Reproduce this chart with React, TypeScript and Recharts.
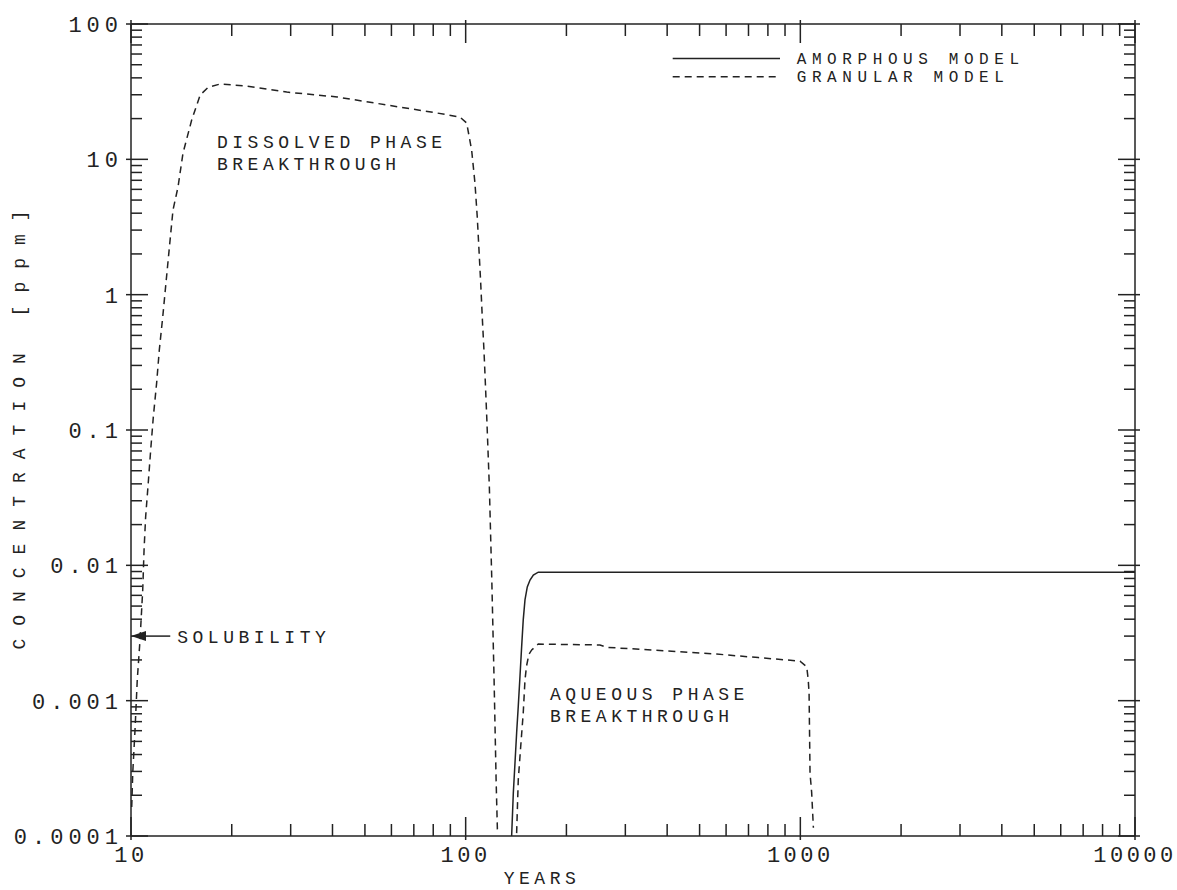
import React from 'react';
import { LineChart, Line, XAxis, YAxis, ReferenceLine, ReferenceDot, Legend } from 'recharts';

// ---- data ----
const amorphousYears = [137.2, 138.8, 140.4, 142.0, 143.6, 145.3, 147.0, 148.6, 150.4, 152.8, 155.7, 159.3, 164.8, 10000];
const amorphousConc = [0.0001, 0.000208, 0.000346, 0.000577, 0.000908, 0.00151, 0.00252, 0.00395, 0.00555, 0.00692, 0.00779, 0.00848, 0.0089, 0.0089];

// dissolved-phase pulse of the granular model
const granularYears1 = [10.05, 10.12, 10.28, 10.44, 10.64, 10.84, 10.94, 11.06, 11.26, 11.45, 11.66, 11.93, 12.15, 12.44, 12.72, 12.99, 13.35, 13.82, 14.3, 15.18, 16.1, 17.0, 18.45, 22.2, 29.2, 41.3, 58.2, 82.1, 96.2, 100.7, 104.2, 106.6, 108.3, 109.6, 110.9, 112.1, 113.4, 114.5, 115.6, 116.6, 117.7, 119.7, 121.6, 123.3, 124.4];
const granularConc1 = [0.000164, 0.000292, 0.000607, 0.00142, 0.00281, 0.00658, 0.013, 0.0228, 0.0406, 0.0711, 0.125, 0.223, 0.39, 0.684, 1.22, 2.1, 4.22, 6.25, 11.1, 19.5, 29.9, 34.0, 36.0, 34.8, 31.4, 28.9, 25.2, 22.0, 20.5, 18.55, 11.7, 6.68, 3.75, 2.14, 1.22, 0.684, 0.39, 0.223, 0.125, 0.0711, 0.038, 0.00779, 0.00142, 0.000259, 0.000111];

// aqueous-phase pulse of the granular model
const granularYears2 = [142.0, 143.6, 146.0, 148.6, 150.4, 152.0, 154.5, 157.5, 164.8, 252, 264, 562, 749, 998, 1045, 1056, 1062, 1069, 1081, 1094];
const granularConc2 = [0.000105, 0.000259, 0.000455, 0.000811, 0.00142, 0.0018, 0.0022, 0.00237, 0.00262, 0.00258, 0.00248, 0.00221, 0.00208, 0.00196, 0.00178, 0.00142, 0.00114, 0.00029, 0.00021, 0.000115];

const seriesNames = ['AMORPHOUS MODEL', 'GRANULAR MODEL'];

const xMajorTicks = [10, 100, 1000, 10000];
const xTickLabels = ['10', '100', '1000', '10000'];
const yMajorTicks = [0.0001, 0.001, 0.01, 0.1, 1, 10, 100];
const yTickLabels = ['0.0001', '0.001', '0.01', '0.1', '1', '10', '100'];
const minorMultipliers = [2, 3, 4, 5, 6, 7, 8, 9];

const xAxisTitle = 'YEARS';
const yAxisTitle = 'CONCENTRATION [ppm]';

const solubilityLevel = 0.003;
const solubilityArrowEnd = 13.1;
const solubilityText = 'SOLUBILITY';

const annotationLines = [
  ['DISSOLVED PHASE', 'BREAKTHROUGH'],
  ['AQUEOUS PHASE', 'BREAKTHROUGH'],
];
const annotationYears = [18.07, 178.6];
const annotationConc = [12.13, 0.00101];

// ---- derived tables ----
const amorphousData = amorphousYears.map((x, i) => ({ x, y: amorphousConc[i] }));
const granularData = [
  ...granularYears1.map((x, i) => ({ x, y: granularConc1[i] })),
  { x: 130, y: null },
  ...granularYears2.map((x, i) => ({ x, y: granularConc2[i] })),
];

const withMinors = (majors: number[]) => {
  const out: number[] = [];
  majors.forEach((m, i) => {
    out.push(m);
    if (i < majors.length - 1) minorMultipliers.forEach((k) => out.push(m * k));
  });
  return out;
};
const xTicks = withMinors(xMajorTicks);
const yTicks = withMinors(yMajorTicks);

// ---- styling ----
const FONT = '"Liberation Mono", "DejaVu Sans Mono", monospace';
const INK = '#222';
const LW = 1.5;
const DASH = '7 5';
const TICK_FS = 22;
const XTICK_LS = 3.5;
const YTICK_LS = 5;
const ANN_FS = 18;
const ANN_LS = 4.5;
const LEG_FS = 16;
const LEG_LS = 5.6;

const majorIndex = (v: number, majors: number[]) =>
  majors.findIndex((m) => Math.abs(Math.log10(m) - Math.log10(v)) < 1e-6);

const BottomTick = (props: any) => {
  const { x, y, payload } = props;
  const idx = majorIndex(payload.value, xMajorTicks);
  const major = idx >= 0;
  return (
    <g>
      <line x1={x} x2={x} y1={y + (major ? 4 : 0)} y2={y - (major ? 19 : 12)} stroke={INK} strokeWidth={LW} />
      {major && (
        <text x={x} y={y + 26} textAnchor="middle" fontFamily={FONT} fontSize={TICK_FS}
          letterSpacing={XTICK_LS} fill={INK}>
          {xTickLabels[idx]}
        </text>
      )}
    </g>
  );
};

const TopTick = (props: any) => {
  const { x, y, payload } = props;
  const major = majorIndex(payload.value, xMajorTicks) >= 0;
  return <line x1={x} x2={x} y1={y - (major ? 4 : 0)} y2={y + (major ? 19 : 12)} stroke={INK} strokeWidth={LW} />;
};

const LeftTick = (props: any) => {
  const { x, y, payload } = props;
  const idx = majorIndex(payload.value, yMajorTicks);
  const major = idx >= 0;
  return (
    <g>
      <line x1={x - (major ? 5 : 0)} x2={x + (major ? 17 : 11)} y1={y} y2={y} stroke={INK} strokeWidth={LW} />
      {major && (
        <text x={x - 13} y={y + 8} dx={YTICK_LS} textAnchor="end" fontFamily={FONT} fontSize={TICK_FS}
          letterSpacing={YTICK_LS} fill={INK}>
          {yTickLabels[idx]}
        </text>
      )}
    </g>
  );
};

const RightTick = (props: any) => {
  const { x, y, payload } = props;
  const major = majorIndex(payload.value, yMajorTicks) >= 0;
  return <line x1={x + (major ? 5 : 0)} x2={x - (major ? 17 : 11)} y1={y} y2={y} stroke={INK} strokeWidth={LW} />;
};

const YTitle = (props: any) => {
  const vb = props.viewBox || { x: 0, y: 24, width: 131, height: 812 };
  const cx = vb.x + 20;
  const cy = vb.y + vb.height / 2;
  return (
    <text x={cx} y={cy} transform={`rotate(-90 ${cx} ${cy})`} textAnchor="middle" dominantBaseline="central"
      dx={6.5} fontFamily={FONT} fontSize={ANN_FS} letterSpacing={13} fill={INK}>
      {yAxisTitle}
    </text>
  );
};

const XTitle = (props: any) => {
  const vb = props.viewBox || { x: 131, y: 836, width: 1004, height: 54 };
  return (
    <text x={vb.x + 409} y={vb.y + 48} textAnchor="middle" dx={2} fontFamily={FONT} fontSize={ANN_FS}
      letterSpacing={ANN_LS} fill={INK}>
      {xAxisTitle}
    </text>
  );
};

const ArrowShape = (props: any) => {
  const { x1, y1, x2 } = props;
  const left = Math.min(x1, x2);
  const right = Math.max(x1, x2);
  return (
    <g>
      <line x1={left + 12} x2={right} y1={y1} y2={y1} stroke={INK} strokeWidth={LW} />
      <polygon points={`${left},${y1} ${left + 15},${y1 - 5} ${left + 15},${y1 + 5}`} fill={INK} />
      <text x={right + 7} y={y1 + 6.5} fontFamily={FONT} fontSize={ANN_FS} letterSpacing={ANN_LS} fill={INK}>
        {solubilityText}
      </text>
    </g>
  );
};

const makeAnnotation = (lines: string[]) => (props: any) => {
  const { cx, cy } = props;
  return (
    <text x={cx} y={cy} fontFamily={FONT} fontSize={ANN_FS} letterSpacing={ANN_LS} fill={INK}>
      {lines.map((t, i) => (
        <tspan key={i} x={cx} dy={i === 0 ? 0 : 22}>{t}</tspan>
      ))}
    </text>
  );
};

const LegendContent = (props: any) => {
  const items = props.payload || [];
  return (
    <svg width={380} height={54} style={{ display: 'block' }}>
      {items.map((it: any, i: number) => {
        const y = 18.4 + i * 18.3;
        const dashed = it.value === seriesNames[1];
        return (
          <g key={i}>
            <line x1={12.7} x2={120} y1={y} y2={y} stroke={INK} strokeWidth={LW} strokeDasharray={dashed ? DASH : undefined} />
            <text x={136.7} y={y + 5.6} fontFamily={FONT} fontSize={LEG_FS} letterSpacing={LEG_LS} fill={INK}>
              {it.value}
            </text>
          </g>
        );
      })}
    </svg>
  );
};

export default function App() {
  return (
    <div style={{ position: 'absolute', left: 0, top: 0, background: '#fff' }}>
      <LineChart width={1177} height={890} margin={{ top: 0, right: 0, bottom: 0, left: 0 }}>
        <XAxis xAxisId={0} type="number" dataKey="x" scale="log" domain={[10, 10000]} allowDataOverflow
          ticks={xTicks} interval={0} tickSize={0} tickMargin={0} tickLine={false} tick={BottomTick}
          axisLine={{ stroke: INK, strokeWidth: LW }} height={54} orientation="bottom" label={XTitle} />
        <XAxis xAxisId="top" type="number" dataKey="x" scale="log" domain={[10, 10000]} allowDataOverflow
          ticks={xTicks} interval={0} tickSize={0} tickMargin={0} tickLine={false} tick={TopTick}
          axisLine={{ stroke: INK, strokeWidth: LW }} height={24} orientation="top" />
        <YAxis yAxisId={0} type="number" scale="log" domain={[0.0001, 100]} allowDataOverflow
          ticks={yTicks} interval={0} tickSize={0} tickMargin={0} tickLine={false} tick={LeftTick}
          axisLine={{ stroke: INK, strokeWidth: LW }} width={131} orientation="left" label={YTitle} />
        <YAxis yAxisId="right" type="number" scale="log" domain={[0.0001, 100]} allowDataOverflow
          ticks={yTicks} interval={0} tickSize={0} tickMargin={0} tickLine={false} tick={RightTick}
          axisLine={{ stroke: INK, strokeWidth: LW }} width={42} orientation="right" />
        <Line data={amorphousData} dataKey="y" name={seriesNames[0]} stroke={INK} strokeWidth={LW}
          dot={false} activeDot={false} isAnimationActive={false} type="linear" />
        <Line data={granularData} dataKey="y" name={seriesNames[1]} stroke={INK} strokeWidth={LW}
          strokeDasharray={DASH} dot={false} activeDot={false} connectNulls={false} isAnimationActive={false} type="linear" />
        <ReferenceLine segment={[{ x: 10, y: solubilityLevel }, { x: solubilityArrowEnd, y: solubilityLevel }]}
          shape={ArrowShape} ifOverflow="visible" />
        {annotationLines.map((lines, i) => (
          <ReferenceDot key={i} x={annotationYears[i]} y={annotationConc[i]} r={0} ifOverflow="visible"
            shape={makeAnnotation(lines)} />
        ))}
        <Legend layout="horizontal" verticalAlign="middle" align="center" content={LegendContent}
          wrapperStyle={{ left: 660, top: 40, width: 380, height: 54 }} />
      </LineChart>
    </div>
  );
}
